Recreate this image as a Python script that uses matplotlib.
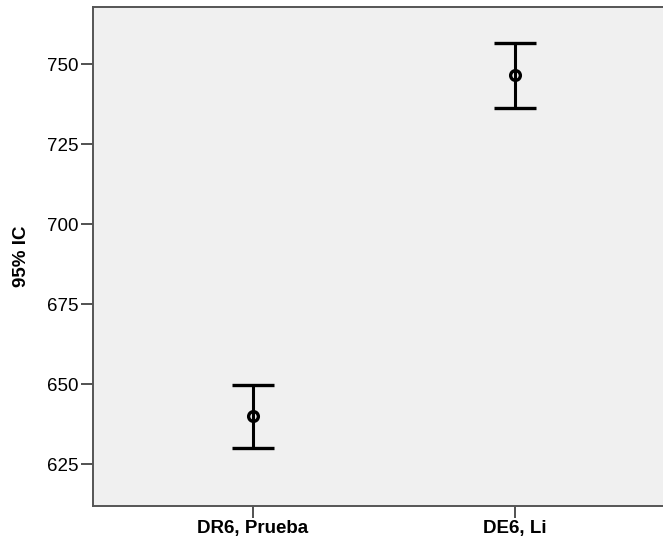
import numpy as np
import matplotlib
matplotlib.use("Agg")
import matplotlib.pyplot as plt

# data
categories = ["DR6, Prueba", "DE6, Li"]
means = [640.0, 746.6]
lower = [630.0, 736.3]
upper = [649.8, 756.8]

plt.rcParams['font.family'] = ['Liberation Sans', 'DejaVu Sans']

def main():
  fig = plt.figure(figsize=(6.63, 5.44), dpi=100)
  ax = fig.add_axes([0.1403, 0.0704, 0.878, 0.917])
  ax.set_facecolor('#f0f0f0')

  x = np.arange(len(categories))
  m = np.array(means)
  yerr = np.vstack([m - np.array(lower), np.array(upper) - m])
  ax.errorbar(x, m, yerr=yerr, fmt='o', color='black', ecolor='black',
              elinewidth=2.2, capsize=15, capthick=2.2,
              markersize=7, markerfacecolor='none', markeredgewidth=2.4)

  ax.set_xlim(-0.61, 1.61)
  ax.set_ylim(612, 768)
  ax.set_yticks([625, 650, 675, 700, 725, 750])
  ax.set_xticks(x)
  ax.set_xticklabels(categories, fontweight='bold', fontsize=13.5)
  ax.tick_params(axis='y', labelsize=13.5, length=8.5, width=1.2, color='#333333', pad=2)
  ax.tick_params(axis='x', length=8.5, width=1.2, color='#333333', pad=2)
  ax.set_ylabel('95% IC', fontweight='bold', fontsize=13.5, labelpad=12)

  for side in ['left', 'bottom', 'top', 'right']:
    ax.spines[side].set_color('#555555')
    ax.spines[side].set_linewidth(1.4)

  fig.savefig('out.png', dpi=100)

if __name__ == '__main__':
  main()
